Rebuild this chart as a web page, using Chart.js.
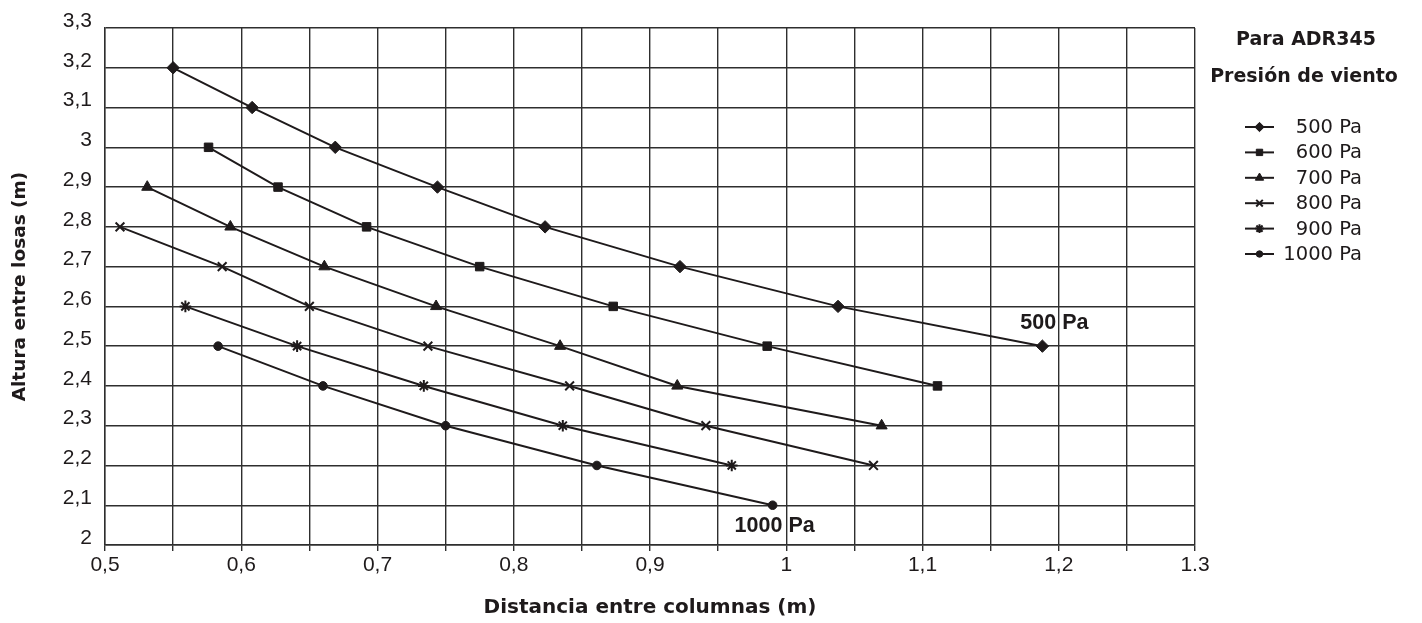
<!DOCTYPE html>
<html>
<head>
<meta charset="utf-8">
<script src="https://cdn.jsdelivr.net/npm/chart.js@4.4.1/dist/chart.umd.min.js"></script>
<style>
html, body { margin:0; padding:0; background:#fff; }
#wrap { position:relative; width:1422px; height:623px; }
</style>
</head>
<body>
<div id="wrap"><canvas id="chart"></canvas></div>
<script>
// wind pressure curves: column spacing (m) vs slab height (m)
const seriesNames = ['500 Pa', '600 Pa', '700 Pa', '800 Pa', '900 Pa', '1000 Pa'];

const dist500   = [0.550, 0.608, 0.669, 0.744, 0.823, 0.922, 1.038, 1.188];
const height500 = [3.2, 3.1, 3.0, 2.9, 2.8, 2.7, 2.6, 2.5];

const dist600   = [0.576, 0.627, 0.692, 0.775, 0.873, 0.986, 1.111];
const height600 = [3.0, 2.9, 2.8, 2.7, 2.6, 2.5, 2.4];

const dist700   = [0.531, 0.592, 0.661, 0.743, 0.834, 0.920, 1.070];
const height700 = [2.9, 2.8, 2.7, 2.6, 2.5, 2.4, 2.3];

const dist800   = [0.511, 0.586, 0.650, 0.737, 0.841, 0.941, 1.064];
const height800 = [2.8, 2.7, 2.6, 2.5, 2.4, 2.3, 2.2];

const dist900   = [0.559, 0.641, 0.734, 0.836, 0.960];
const height900 = [2.6, 2.5, 2.4, 2.3, 2.2];

const dist1000   = [0.583, 0.660, 0.750, 0.861, 0.990];
const height1000 = [2.5, 2.4, 2.3, 2.2, 2.1];

const xTickLabels = ['0,5', '0,6', '0,7', '0,8', '0,9', '1', '1,1', '1,2', '1.3'];
const yTickLabels = ['2', '2,1', '2,2', '2,3', '2,4', '2,5', '2,6', '2,7', '2,8', '2,9', '3', '3,1', '3,2', '3,3'];

const ink = '#1e1a1b';
const gridInk = '#2e2e2e';

const styles = [
    { pointStyle: 'rectRot',  radius: 6.2, bw: 1 },
    { pointStyle: 'rect',     radius: 6.0, bw: 1 },
    { pointStyle: 'triangle', radius: 6.4, bw: 1 },
    { pointStyle: 'crossRot', radius: 6.2, bw: 2 },
    { pointStyle: 'star',     radius: 5.8, bw: 2 },
    { pointStyle: 'circle',   radius: 4.3, bw: 1 },
];

const allDist   = [dist500, dist600, dist700, dist800, dist900, dist1000];
const allHeight = [height500, height600, height700, height800, height900, height1000];

const datasets = seriesNames.map((name, i) => ({
    label: name,
    data: allDist[i].map((x, j) => ({ x, y: allHeight[i][j] })),
    borderColor: ink,
    backgroundColor: ink,
    borderWidth: 2,
    pointStyle: styles[i].pointStyle,
    pointRadius: styles[i].radius,
    pointHoverRadius: styles[i].radius,
    pointBorderWidth: styles[i].bw,
    pointBackgroundColor: ink,
    pointBorderColor: ink,
    tension: 0,
    fill: false,
}));

// legend + header on the right side, curve end labels
const sideLegend = {
    id: 'sideLegend',
    afterDraw(chart) {
        const ctx = chart.ctx;
        const right = chart.chartArea.right;
        ctx.save();
        ctx.fillStyle = ink;
        ctx.strokeStyle = ink;
        ctx.textBaseline = 'middle';
        ctx.textAlign = 'center';
        ctx.font = 'bold 19px "DejaVu Sans"';
        ctx.fillText('Para ADR345', right + 111, 40);
        ctx.fillText('Presión de viento', right + 109, 77);

        ctx.font = '19.5px "DejaVu Sans"';
        ctx.textAlign = 'right';
        seriesNames.forEach((name, i) => {
            const y = 127 + i * 25.4;
            ctx.lineWidth = 2;
            ctx.beginPath();
            ctx.moveTo(right + 50, y);
            ctx.lineTo(right + 79, y);
            ctx.stroke();
            ctx.lineWidth = styles[i].bw;
            Chart.helpers.drawPoint(ctx, {
                pointStyle: styles[i].pointStyle,
                radius: styles[i].radius * 0.75,
                borderWidth: styles[i].bw,
                rotation: 0
            }, right + 64.5, y);
            ctx.fillText(name, right + 167, y + 1);
        });

        // end labels on first and last curves
        ctx.font = 'bold 21.5px "Liberation Sans"';
        ctx.textAlign = 'center';
        const m0 = chart.getDatasetMeta(0).data;
        const p0 = m0[m0.length - 1];
        ctx.fillText('500 Pa', p0.x + 12, p0.y - 23);
        const m5 = chart.getDatasetMeta(5).data;
        const p5 = m5[m5.length - 1];
        ctx.fillText('1000 Pa', p5.x + 2, p5.y + 21);
        ctx.restore();
    }
};

new Chart(document.getElementById('chart'), {
    type: 'line',
    data: { datasets },
    plugins: [sideLegend],
    options: {
        responsive: true,
        maintainAspectRatio: false,
        animation: false,
        layout: { padding: { top: 28, right: 227, bottom: 0, left: 0 } },
        plugins: { legend: { display: false }, tooltip: { enabled: false } },
        scales: {
            x: {
                type: 'linear',
                min: 0.5, max: 1.3,
                afterFit(scale) { scale.height = 78; },
                ticks: {
                    stepSize: 0.05,
                    maxTicksLimit: 30,
                    autoSkip: false,
                    maxRotation: 0,
                    padding: 2,
                    color: ink,
                    font: { family: '"Liberation Sans"', size: 21 },
                    callback: v => {
                        const k = Math.round((v - 0.5) * 20);
                        return k % 2 === 0 ? xTickLabels[k / 2] : '';
                    }
                },
                grid: { color: gridInk, lineWidth: 1.4, drawTicks: true, tickLength: 6, tickColor: gridInk },
                border: { display: true, color: gridInk, width: 1.4 },
                title: {
                    display: true,
                    text: 'Distancia entre columnas (m)',
                    color: ink,
                    font: { family: '"DejaVu Sans"', size: 20, weight: 'bold' },
                    padding: { top: 0, bottom: 3 }
                }
            },
            y: {
                type: 'linear',
                min: 2, max: 3.3,
                afterFit(scale) { scale.width = 105; },
                ticks: {
                    stepSize: 0.1,
                    maxTicksLimit: 30,
                    autoSkip: false,
                    padding: 13,
                    labelOffset: -7,
                    color: ink,
                    font: { family: '"Liberation Sans"', size: 21 },
                    callback: v => yTickLabels[Math.round((v - 2) * 10)]
                },
                grid: { color: gridInk, lineWidth: 1.4, drawTicks: false },
                border: { display: true, color: gridInk, width: 1.4 },
                title: {
                    display: true,
                    text: 'Altura entre losas (m)',
                    color: ink,
                    font: { family: '"DejaVu Sans"', size: 18.5, weight: 'bold' },
                    padding: { top: 9, bottom: 0 }
                }
            }
        }
    }
});
</script>
</body>
</html>
